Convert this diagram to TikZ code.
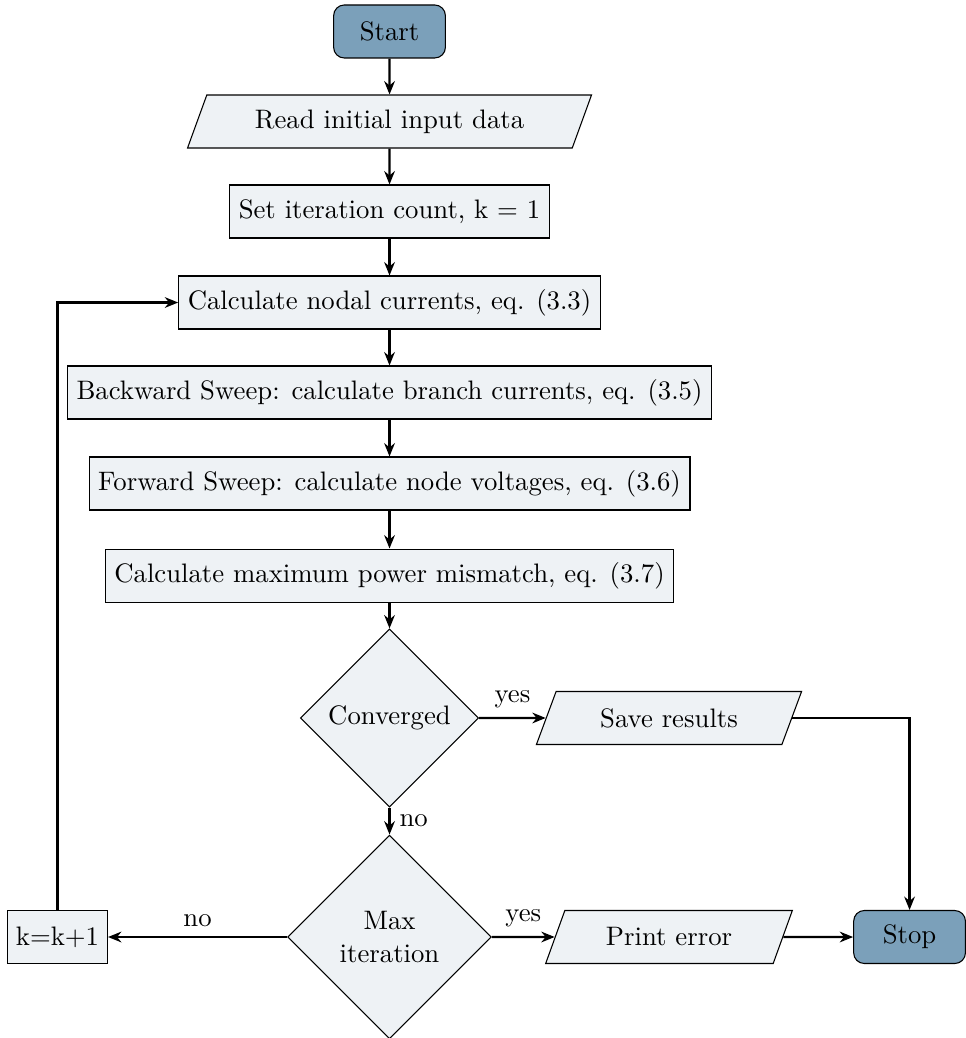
\documentclass[tikz,border=0pt]{standalone}
\usepackage{amsmath,amssymb}
\usepackage{xcolor}
\usepackage{tikz}
\usetikzlibrary{positioning,arrows.meta,shapes.geometric,calc}
\definecolor{termcolor}{HTML}{7BA0BA}
\definecolor{boxcolor}{HTML}{EEF2F5}

\begin{document}
\begin{tikzpicture}[
    terminal/.style={draw, rounded corners=4pt, fill=termcolor, minimum width=1.47cm, minimum height=0.697cm},
    process/.style={draw, fill=boxcolor, minimum height=0.697cm, inner xsep=3.4pt},
    io/.style={draw, trapezium, trapezium left angle=70, trapezium right angle=110, trapezium stretches=true, fill=boxcolor, minimum height=0.697cm},
    decision/.style={draw, diamond, aspect=1, fill=boxcolor, align=center, inner sep=1pt},
    flow/.style={->, >={Stealth[length=5pt,width=4pt]}, thick},
  ]
  \useasboundingbox (-5.122,0.414) rectangle (7.568,-13.235);
  \node[terminal] (start) at (0,0) {Start};
  \node[io, minimum width=5.313cm] (read) at (0,-1.184) {Read initial input data};
  \node[process] (setk) at (0,-2.367) {Set iteration count, k = 1};
  \node[process] (nodal) at (0,-3.564) {Calculate nodal currents, eq. (3.3)};
  \node[process] (backward) at (0,-4.747) {Backward Sweep: calculate branch currents, eq. (3.5)};
  \node[process] (forward) at (0,-5.944) {Forward Sweep: calculate node voltages, eq. (3.6)};
  \node[process] (mismatch) at (0,-7.154) {Calculate maximum power mismatch, eq. (3.7)};
  \node[decision, minimum width=2.341cm, minimum height=2.341cm] (conv) at (0,-9.027) {Converged};
  \node[io, minimum width=3.498cm] (save) at (3.675,-9.027) {Save results};
  \node[decision, minimum width=2.68cm, minimum height=2.68cm] (maxit) at (0,-11.907) {Max\\iteration};
  \node[process, minimum width=1.315cm, inner xsep=2pt] (incr) at (-4.366,-11.907) {k=k+1};
  \node[io, minimum width=3.261cm] (print) at (3.675,-11.907) {Print error};
  \node[terminal] (stop) at (6.838,-11.907) {Stop};

  \draw[flow] (start)--(read);
  \draw[flow] (read)--(setk);
  \draw[flow] (setk)--(nodal);
  \draw[flow] (nodal)--(backward);
  \draw[flow] (backward)--(forward);
  \draw[flow] (forward)--(mismatch);
  \draw[flow] (mismatch)--(conv);
  \draw[flow] (conv)--node[above]{yes}(save);
  \draw[flow] (conv)--node[right]{no}(maxit);
  \draw[flow] (maxit)--node[above]{no}(incr);
  \draw[flow] (maxit)--node[above]{yes}(print);
  \draw[flow] (print)--(stop);
  \draw[flow] (save.east) -| (stop.north);
  \draw[flow] (incr.north) |- (nodal.west);
\end{tikzpicture}
\end{document}
